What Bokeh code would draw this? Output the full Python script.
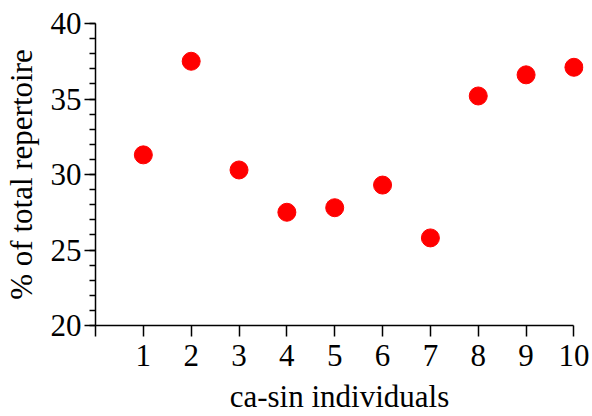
from bokeh.plotting import figure
from bokeh.models import Range1d, FixedTicker
from bokeh.embed import file_html
from bokeh.resources import INLINE

individuals = [1, 2, 3, 4, 5, 6, 7, 8, 9, 10]
percent = [31.3, 37.5, 30.3, 27.5, 27.8, 29.3, 25.8, 35.2, 36.6, 37.1]
x_ticks = [0, 1, 2, 3, 4, 5, 6, 7, 8, 9, 10]
y_ticks = [20, 25, 30, 35, 40]
y_minor = [v for v in range(20, 41)]

FONT = "Liberation Serif"

p = figure(width=592, height=416, output_backend="svg", toolbar_location=None,
           x_range=Range1d(0, 10.2), y_range=Range1d(20, 40),
           min_border_left=95, min_border_right=9, min_border_top=23, min_border_bottom=91)
p.outline_line_color = None
p.grid.visible = False
p.background_fill_color = "white"
p.border_fill_color = "white"

p.scatter(individuals, percent, size=18, color="#ff0000", marker="circle")

xa = p.xaxis[0]
xa.ticker = FixedTicker(ticks=x_ticks)
xa.major_label_overrides = {0: ""}
xa.bounds = (0, 10)
xa.axis_label = "ca-sin individuals"

ya = p.yaxis[0]
ya.ticker = FixedTicker(ticks=y_ticks, minor_ticks=y_minor)
ya.bounds = (20, 40)
ya.axis_label = "% of total repertoire"

for ax in (xa, ya):
    ax.axis_line_width = 1.5
    ax.axis_line_color = "black"
    ax.major_tick_line_width = 1.5
    ax.minor_tick_line_width = 1.5
    ax.major_tick_line_color = "black"
    ax.minor_tick_line_color = "black"
    ax.major_tick_in = 0
    ax.major_tick_out = 11
    ax.minor_tick_in = 0
    ax.minor_tick_out = 6
    ax.major_label_text_font = FONT
    ax.major_label_text_font_size = "31px"
    ax.major_label_text_color = "black"
    ax.axis_label_text_font = FONT
    ax.axis_label_text_font_size = "31px"
    ax.axis_label_text_font_style = "normal"
    ax.axis_label_text_color = "black"

xa.minor_tick_out = 0
xa.major_label_standoff = 8
xa.axis_label_standoff = 10
ya.major_label_standoff = 3
ya.axis_label_standoff = 9

open("out.html", "w").write(file_html(p, INLINE))
